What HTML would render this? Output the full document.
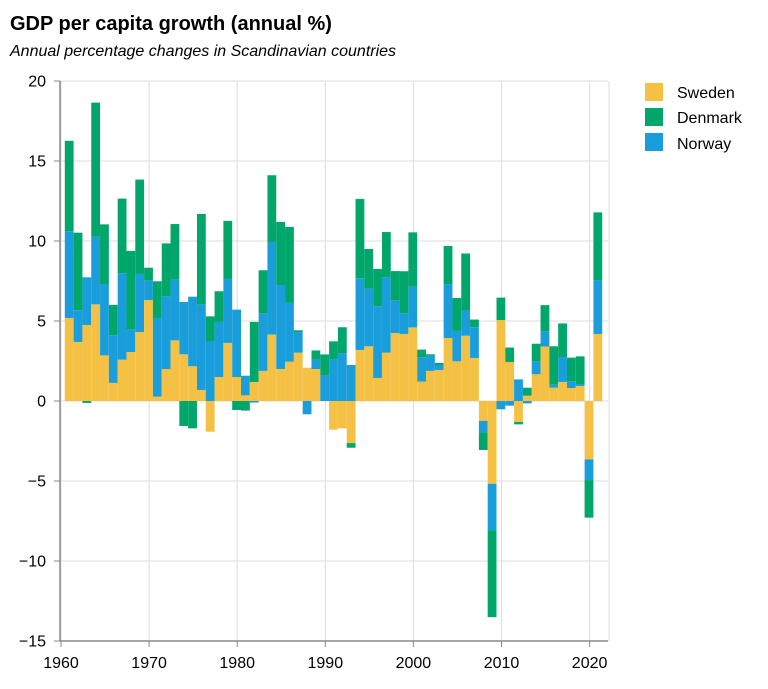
<!DOCTYPE html>
<html><head><meta charset="utf-8"><style>
body{margin:0;background:#fff;}
svg text{font-family:"Liberation Sans",Arial,sans-serif;}
</style></head><body>
<svg id="chart" width="768" height="684" xmlns="http://www.w3.org/2000/svg">
<text x="10" y="30" font-size="20" font-weight="bold" fill="#000">GDP per capita growth (annual %)</text>
<text x="10" y="56" font-size="16" font-style="italic" fill="#000">Annual percentage changes in Scandinavian countries</text>
<g id="grid"></g>
<g id="bars"></g>
<g id="axes"></g>
<g>
<rect x="645" y="83" width="18" height="18" fill="#f4c145"/>
<text x="677" y="98" font-size="16">Sweden</text>
<rect x="645" y="108" width="18" height="18" fill="#00a66a"/>
<text x="677" y="123" font-size="16">Denmark</text>
<rect x="645" y="133" width="18" height="18" fill="#1a9edb"/>
<text x="677" y="149" font-size="16">Norway</text>
</g>
</svg>
<script>
const years = [];
for (let y = 1961; y <= 2021; y++) years.push(y);
const sweden = [5.19,3.69,4.75,6.04,2.85,1.13,2.58,3.06,4.31,6.31,0.27,2.0,3.79,2.92,2.17,0.69,-1.92,1.5,3.63,1.5,0.35,1.19,1.88,4.15,2.0,2.46,3.02,2.08,2.0,0,-1.79,-1.71,-2.63,3.19,3.42,1.44,3.02,4.25,4.19,4.6,1.21,1.88,1.94,3.94,2.48,4.08,2.69,-1.25,-5.17,5.06,2.44,-1.31,0.33,1.67,3.4,0.83,1.19,0.81,0.94,-3.65,4.19];
const norway = [5.42,1.98,2.98,4.23,4.46,2.98,5.4,1.4,3.63,1.21,4.92,4.54,3.81,3.27,4.35,5.35,3.75,3.44,4.0,4.21,1.23,-0.1,3.6,5.79,5.25,3.67,1.27,-0.83,0.58,1.6,2.6,2.98,2.25,4.48,3.6,4.48,4.71,2.04,1.29,2.56,1.52,0.94,0.31,3.35,1.9,1.58,1.92,-0.71,-2.92,-0.52,-0.29,1.35,-0.15,0.81,0.96,0.19,1.56,0.42,0.12,-1.29,3.35];
const denmark = [5.65,4.85,-0.12,8.38,3.73,1.9,4.67,4.92,5.9,0.81,2.29,3.31,3.46,-1.56,-1.71,5.65,1.54,1.92,3.63,-0.56,-0.6,3.75,2.69,4.17,3.94,4.75,0.13,0,0.58,1.31,1.13,1.63,-0.29,4.96,2.48,2.33,2.83,1.83,2.63,3.38,0.48,0.1,0.13,2.4,2.06,3.56,0.48,-1.1,-5.42,1.4,0.9,-0.15,0.5,1.1,1.63,2.4,2.1,1.48,1.73,-2.35,4.25];
const yTicks = [20,15,10,5,0,-5,-10,-15];
const xTicks = [1960,1970,1980,1990,2000,2010,2020];

const NS = "http://www.w3.org/2000/svg";
const yS = v => 401 - v * 16;
const xT = y => 61 + (y - 1960) * 8.81;
const bx = y => xT(y) - 5;
const bw = 8.8;
function mk(tag, attrs, parent) {
  const e = document.createElementNS(NS, tag);
  for (const k in attrs) e.setAttribute(k, attrs[k]);
  parent.appendChild(e);
  return e;
}
const grid = document.getElementById('grid');
yTicks.forEach(t => {
  const l = mk('line', {x1: 60, x2: 608, y1: yS(t), y2: yS(t), stroke: '#ddd', 'stroke-width': 1}, grid);
  
  
});
xTicks.concat([2022.2]).forEach(t => {
  const l = mk('line', {x1: xT(t), x2: xT(t), y1: 81, y2: 641, stroke: '#ddd', 'stroke-width': 1}, grid);
  
  
});
const bars = document.getElementById('bars');
const series = [[sweden, '#f4c145', 'sweden'], [norway, '#1a9edb', 'norway'], [denmark, '#00a66a', 'denmark']];
years.forEach((yr, i) => {
  let pos = 0, neg = 0;
  series.forEach(([arr, col, nm]) => {
    const v = arr[i];
    let y0, y1;
    if (v >= 0) { y0 = pos; y1 = pos + v; pos = y1; } else { y0 = neg; y1 = neg + v; neg = y1; }
    const top = Math.min(yS(y0), yS(y1)), h = Math.abs(yS(y1) - yS(y0));
    const r = mk('rect', {x: bx(yr), y: top, width: bw, height: h, fill: col}, bars);
    
    
  });
});
const axes = document.getElementById('axes');
const ya = mk('line', {x1: 60, x2: 60, y1: 81, y2: 641, stroke: '#888', 'stroke-width': 1.5}, axes);


const xa = mk('line', {x1: 60, x2: 608, y1: 641, y2: 641, stroke: '#888', 'stroke-width': 1.5}, axes);


yTicks.forEach(t => {
  const tk = mk('line', {x1: 54, x2: 60, y1: yS(t), y2: yS(t), stroke: '#888'}, axes);
  
  
  const tx = mk('text', {x: 46, y: yS(t) + 5.5, 'font-size': 16, 'text-anchor': 'end'}, axes);
  tx.textContent = (t < 0 ? '\u2212' + Math.abs(t) : t);
  
  
});
xTicks.forEach(t => {
  const tk = mk('line', {x1: xT(t), x2: xT(t), y1: 641, y2: 647, stroke: '#888'}, axes);
  
  
  const tx = mk('text', {x: xT(t), y: 668, 'font-size': 16, 'text-anchor': 'middle'}, axes);
  tx.textContent = t;
  
  
});
</script>
</body></html>
